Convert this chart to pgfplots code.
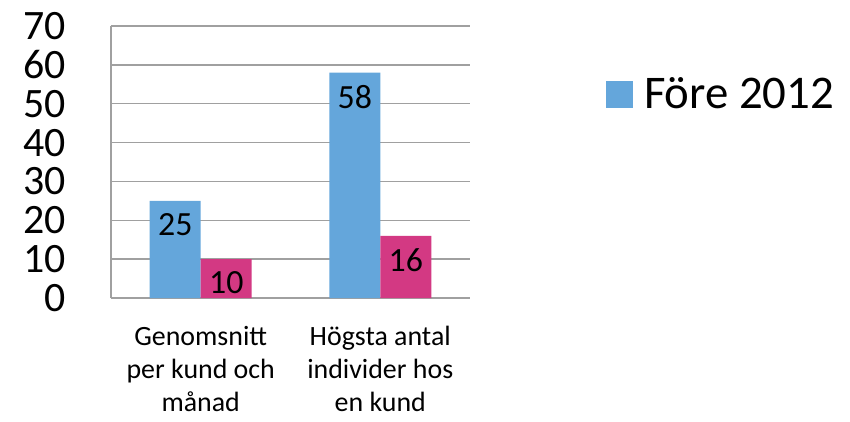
\documentclass[border=0pt]{standalone}
\usepackage{fontspec}
\setmainfont{Carlito}
\usepackage{pgfplots}
\pgfplotsset{compat=1.18}
\definecolor{cblue}{RGB}{100,166,219}
\definecolor{cpink}{RGB}{211,57,131}
\definecolor{cgrid}{RGB}{160,160,160}
\begin{document}
\begin{tikzpicture}[x=1bp,y=1bp]
\begin{axis}[
 name=ax,
 scale only axis,
 width=359bp, height=272bp,
 ybar=0pt, bar width=51bp,
 ymin=0, ymax=70, ytick={0,10,...,70},
 xmin=-0.5, xmax=1.5, xtick={0,1},
 xticklabels={{Genomsnitt\\per kund och\\månad},{Högsta antal\\individer hos\\en kund}},
 xticklabel style={align=center, font=\fontsize{28}{33}\selectfont, yshift=-25bp},
 yticklabel style={font=\fontsize{42}{42}\selectfont, xshift=-42bp, inner ysep=0pt},
 axis x line*=bottom, axis y line*=left,
 axis line style={cgrid, line width=1.3bp, -},
 ymajorgrids, grid style={cgrid, line width=1.3bp},
 major tick length=0,
 nodes near coords,
 nodes near coords style={font=\fontsize{34}{34}\selectfont, anchor=north, yshift=-9bp, text=black},
 legend style={at={(1.37,0.75)}, anchor=west, draw=none, fill=none, font=\fontsize{47}{47}\selectfont},
 legend image code/.code={\fill[cblue] (0bp,-13.5bp) rectangle (27bp,13.5bp); \path (36bp,0bp);},
 /pgf/number format/assume math mode=true,
 clip=false,
]
\addplot[fill=cblue, draw=none] coordinates {(0,25) (1,58)};
\addlegendentry{Före 2012}
\addplot[fill=cpink, draw=none] coordinates {(0,10) (1,16)};
\coordinate (o) at (rel axis cs:0,0);
\end{axis}
\path (o) ++(-111bp,-124bp) rectangle ++(850bp,422bp);
\end{tikzpicture}
\end{document}
